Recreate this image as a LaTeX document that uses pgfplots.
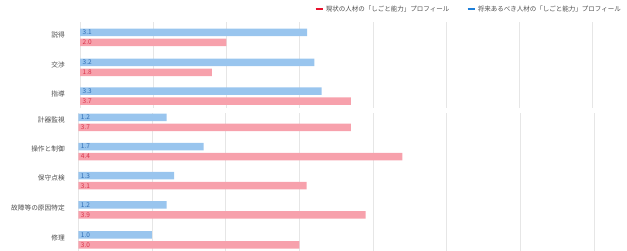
\documentclass[border=0pt]{standalone}
\usepackage{pgfplots}
\pgfplotsset{compat=1.18}
\usepackage{pgfplotstable}
\usepackage{fontspec}
\setmainfont{Noto Sans CJK JP}
\definecolor{barblue}{HTML}{99C5EE}
\definecolor{barred}{HTML}{F7A1AC}
\definecolor{lblblue}{HTML}{2E6DB4}
\definecolor{lblred}{HTML}{D9344B}
\definecolor{legred}{HTML}{E8112D}
\definecolor{legblue}{HTML}{1E7FD9}
\definecolor{txtgray}{HTML}{4D4D4D}
\definecolor{gridgray}{HTML}{E6E6E6}

\pgfplotstableread{
y b r
32.3 3.1 2.0
62.3 3.2 1.8
91.0 3.3 3.7
}\uptab
\pgfplotstableread{
y b r
117.3 1.2 3.7
146.7 1.7 4.4
175.7 1.3 3.1
205.0 1.2 3.9
235.0 1.0 3.0
}\lowtab

\pgfplotsset{
  common/.style={
    scale only axis,
    y dir=reverse,
    xmin=0, xmax=7,
    xtick={0,1,...,7},
    xticklabels={},
    xmajorgrids,
    grid style={gridgray, line width=0.8pt},
    axis line style={draw=none},
    major tick length=0pt,
    ytick pos=left,
    xtick pos=bottom,
    yticklabel style={inner sep=0pt, font=\fontsize{6.7}{7}\selectfont, text=txtgray},
    clip=false,
  },
  bblue/.style={xbar, bar width=7.5, bar shift=0pt, fill=barblue, draw=none, forget plot},
  bred/.style={xbar, bar width=7.5, bar shift=0pt, fill=barred, draw=none, forget plot},
  vlab/.style={draw=none, mark=none, forget plot, point meta=explicit,
    nodes near coords={\pgfmathprintnumber[fixed,fixed zerofill,precision=1,assume math mode=true]{\pgfplotspointmeta}},
    every node near coord/.append style={anchor=west, inner sep=0pt, xshift=2.5pt, font=\fontsize{6.5}{7}\selectfont, text=#1}},
}

\begin{document}
\begin{tikzpicture}
\path[use as bounding box] (0,0) rectangle (627pt,251pt);
\begin{axis}[common,
  at={(80pt,229pt)}, anchor=north west,
  width=512.7pt, height=86pt,
  ymin=22, ymax=108,
  ytick={35,65,93.7},
  yticklabels={説得,交渉,指導},
  yticklabel style={xshift=-15pt},
  legend columns=2,
  legend style={at={(1.059,1.151)}, anchor=east, draw=none, fill=none, inner sep=0pt,
    font=\fontsize{6.5}{7}\selectfont, text=txtgray,
    /tikz/every even column/.append style={column sep=15pt}},
  legend image code/.code={\draw[#1, line width=2.6pt] (0pt,0pt) -- (7pt,0pt);},
]
\addlegendimage{legred}
\addlegendentry{現状の人材の「しごと能力」プロフィール}
\addlegendimage{legblue}
\addlegendentry{将来あるべき人材の「しごと能力」プロフィール}
\addplot[bblue] table[x=b, y=y] {\uptab};
\addplot[bred] table[x=r, y expr=\thisrow{y}+10] {\uptab};
\addplot[vlab=lblblue] table[x expr=0, y=y, meta=b] {\uptab};
\addplot[vlab=lblred] table[x expr=0, y expr=\thisrow{y}+10, meta=r] {\uptab};
\end{axis}
\begin{axis}[common,
  at={(78.3pt,138pt)}, anchor=north west,
  width=515.7pt, height=138pt,
  ymin=113, ymax=251,
  ytick={120,149.4,178.4,207.7,237.7},
  yticklabels={計器監視,操作と制御,保守点検,故障等の原因特定,修理},
  yticklabel style={xshift=-13.3pt},
]
\addplot[bblue] table[x=b, y=y] {\lowtab};
\addplot[bred] table[x=r, y expr=\thisrow{y}+10] {\lowtab};
\addplot[vlab=lblblue] table[x expr=0, y=y, meta=b] {\lowtab};
\addplot[vlab=lblred] table[x expr=0, y expr=\thisrow{y}+10, meta=r] {\lowtab};
\end{axis}
\end{tikzpicture}
\end{document}
